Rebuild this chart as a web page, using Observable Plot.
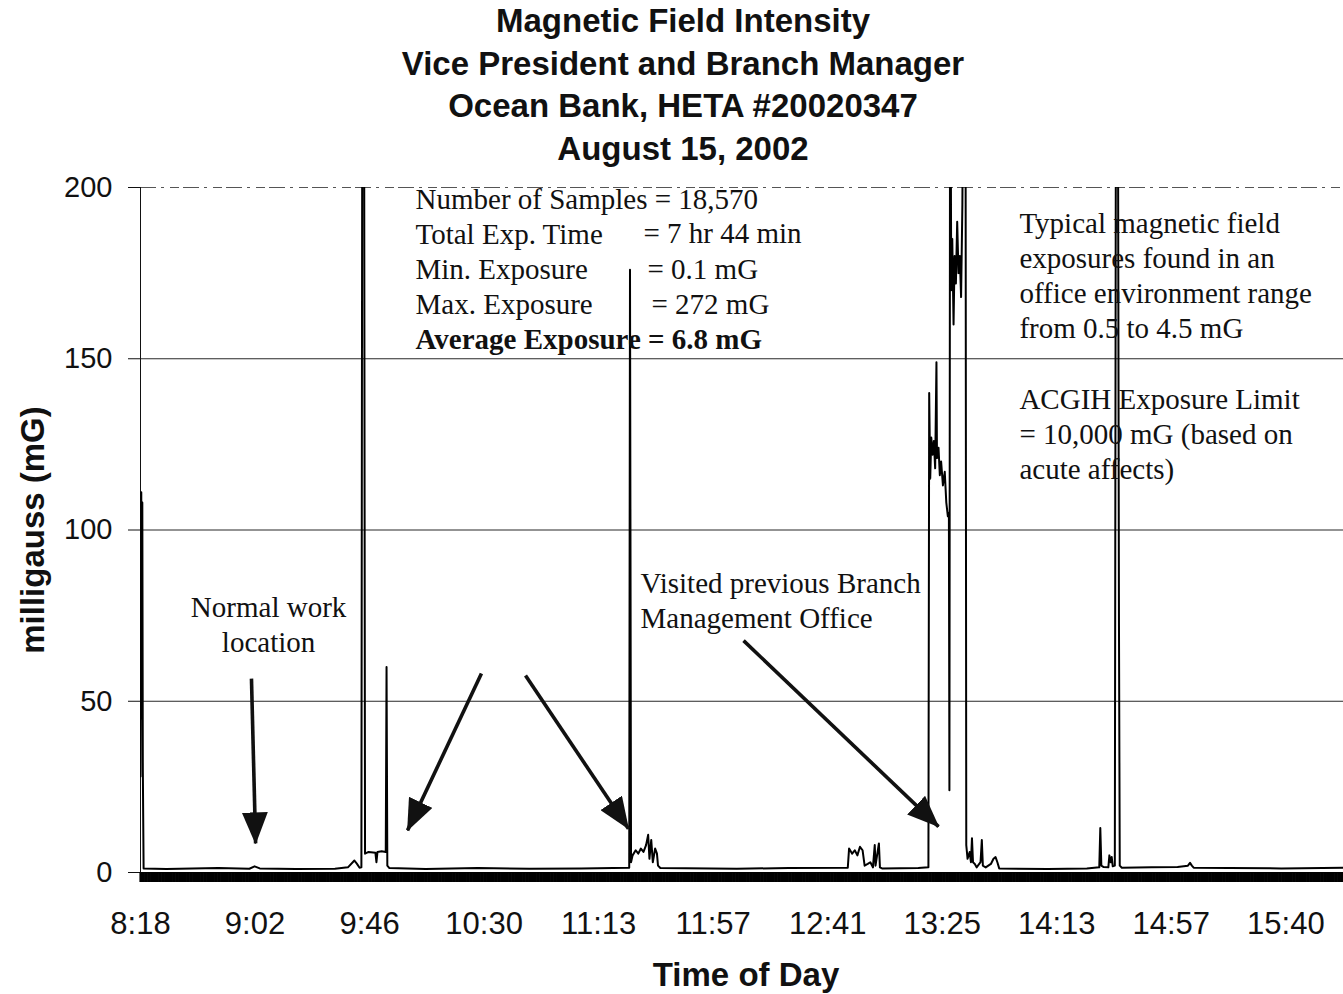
<!DOCTYPE html>
<html><head><meta charset="utf-8">
<script src="https://cdn.jsdelivr.net/npm/d3@7"></script>
<script src="https://cdn.jsdelivr.net/npm/@observablehq/plot@0.6"></script>
<style>
body{margin:0;background:#fff;width:1343px;height:994px;overflow:hidden}
#title{height:170px;box-sizing:border-box;padding-left:23px;text-align:center;font:bold 33px "Liberation Sans",Arial,sans-serif;line-height:42.5px;color:#111}
#chart svg{display:block;overflow:visible}
</style></head><body>
<div id="title">
<div>Magnetic Field Intensity</div>
<div>Vice President and Branch Manager</div>
<div>Ocean Bank, HETA #20020347</div>
<div>August 15, 2002</div>
</div>
<div id="chart"></div>
<script>
// ---- data ----
const totalSamples = 18570;
const totalMinutes = 464;          // 7 hr 44 min
const samplesPerLabel = 1768;      // category-axis label interval
const tickLabels = ["8:18","9:02","9:46","10:30","11:13","11:57","12:41","13:25","14:13","14:57","15:40"];
const yTicks = [0, 50, 100, 150, 200];
const gridValues = [50, 100, 150];
// minutes after 8:18
const sampleMinutes = [
  0, 0.3, 0.5, 0.7, 0.9, 1.2, 10, 30, 42, 44, 46, 60, 75, 80, 82.5, 83.5, 84.5, 85.2, 85.6, 86.2,
  86.6, 88, 90.6, 91.0, 91.4, 93, 94.6, 94.9, 95.2, 96,
  110, 130, 150, 170, 188.5, 188.8, 189.2, 189.8, 191, 192, 193, 194, 195, 195.8, 196.3, 197, 197.6, 198.5, 199.2, 199.6, 200.5,
  230, 250, 272.8, 273.3, 274.5, 275.5, 276.5, 277.5, 278.5, 279.3, 280.5, 281.5, 282.5, 283.2, 283.5, 284.8, 285.2, 286, 300,
  303.9, 304.2, 304.6, 305.0, 305.5, 306.0, 306.5, 307.0, 307.2, 307.8, 308.3, 308.8, 309.5, 310.2, 310.8, 311.4, 311.8, 312.0,
  312.3, 312.7, 313.1, 313.6, 314.0, 314.5, 315.0, 315.5, 316.0, 316.5, 317.0, 317.6, 318.2, 318.5,
  319.0, 319.8, 320.3, 320.7, 321.1, 321.8, 322.5, 324.0, 324.5, 324.9, 326.0, 328.0, 329.0, 329.8, 330.5, 331.2,
  350, 365, 369.8, 370.2, 370.6, 371.5, 373.3, 373.7, 374.2, 374.6, 375.0, 375.8, 376.3, 377.0, 377.4, 377.7, 378.5,
  390, 400, 404, 404.8, 405.5, 406.2, 420, 440, 464
];
const sampleMilligauss = [
  28, 111, 45, 108, 30, 1.2, 1.0, 1.3, 1.1, 1.8, 1.2, 1.0, 1.1, 1.5, 3.5, 2.5, 1.4, 1.5, 272, 260,
  5.5, 6.0, 5.8, 3.0, 6.0, 6.2, 6.0, 60, 2, 1.3,
  1.0, 1.3, 1.1, 1.2, 1.4, 176, 3, 5, 6.5, 5.5, 7, 6, 8, 11, 4, 9.5, 3, 7, 5.5, 2, 1.3,
  1.1, 1.3, 1.4, 7, 5.5, 6.5, 5, 7.5, 6.5, 2, 2.5, 3, 1.5, 8, 2, 8.5, 1.5, 1.2, 1.3,
  1.5, 140, 115, 127, 122, 126, 118, 149, 121, 124, 116, 120, 113, 117, 108, 104, 105, 24,
  272, 170, 185, 160, 180, 172, 190, 175, 180, 168, 195, 272, 250, 8,
  4, 6, 3, 10, 3, 2.5, 1.5, 3, 9.5, 2, 1.5, 2.5, 4, 4.5, 3, 1.2,
  1.0, 1.2, 1.5, 13, 2, 1.6, 1.5, 5, 3, 4.5, 1.8, 2, 272, 230, 72, 2, 1.4,
  1.5, 1.6, 2, 2.8, 2, 1.4, 1.3, 1.2, 1.4
];
const statHeader = "Number of Samples = 18,570";
const statNames = ["Total Exp. Time", "Min. Exposure", "Max. Exposure"];
const statValues = ["= 7 hr 44 min", "= 0.1 mG", "= 272 mG"];
const statAverage = "Average Exposure = 6.8 mG";
const noteTypical = ["Typical magnetic field", "exposures found in an", "office environment range", "from 0.5 to 4.5 mG"];
const noteLimit = ["ACGIH Exposure Limit", "= 10,000 mG (based on", "acute affects)"];
const noteNormal = ["Normal work", "location"];
const noteVisited = ["Visited previous Branch", "Management Office"];
const yTitle = "milligauss (mG)";
const xTitle = "Time of Day";

// ---- derived ----
const minutesPerSample = totalMinutes / totalSamples;
const tickMinutes = tickLabels.map((_, i) => i * samplesPerLabel * minutesPerSample);
const labelOf = new Map(tickMinutes.map((m, i) => [m, tickLabels[i]]));
const denseTicks = d3.range(0, totalMinutes, 0.6);
const series = sampleMinutes.map((m, i) => ({m, v: sampleMilligauss[i]}));

const SANS = "'Liberation Sans', Arial, sans-serif";
const SERIF = "'Liberation Serif', 'Times New Roman', serif";
const LH = 35 / 29;

const plot = Plot.plot({
  width: 1343, height: 824,
  marginTop: 17, marginBottom: 122, marginLeft: 140, marginRight: 0,
  style: {background: "#fff", color: "#111"},
  x: {domain: [0, totalMinutes]},
  y: {domain: [0, 200]},
  marks: [
    Plot.gridY(gridValues, {stroke: "#111", strokeOpacity: 0.9}),
    Plot.ruleY([200], {stroke: "#555", strokeDasharray: "16,5,3,6,9,4"}),
    Plot.ruleX([0], {stroke: "#111"}),
    Plot.ruleY([0], {stroke: "#111"}),
    Plot.axisY(yTicks, {tickSize: 12, tickPadding: 16, fontSize: 29, fontFamily: SANS, label: null, stroke: "#111"}),
    Plot.ruleX(denseTicks, {x: d => d, y1: 0, y2: 0, insetBottom: -10, stroke: "#000", strokeWidth: 2.2}),
    Plot.axisX(tickMinutes, {tickSize: 0, tickPadding: 39, tickFormat: d => labelOf.get(d), fontSize: 31, fontFamily: SANS, label: null}),
    Plot.line(series, {x: "m", y: "v", stroke: "#000", strokeWidth: 2, clip: true}),
    // stats box
    Plot.text([[statHeader, ...statNames].join("\n")], {x: 106.07, y: 163.21, text: d => d, textAnchor: "start", lineAnchor: "bottom", lineHeight: LH, fontSize: 29, fontFamily: SERIF, fill: "#111"}),
    Plot.text(statValues, {x: (d, i) => 194.0 + i * 1.55, y: (d, i) => 183.65 - i * 10.22, text: d => d, textAnchor: "start", lineAnchor: "bottom", fontSize: 29, fontFamily: SERIF, fill: "#111"}),
    Plot.text([statAverage], {x: 106.07, y: 152.99, text: d => d, textAnchor: "start", lineAnchor: "bottom", fontSize: 29, fontWeight: "bold", fontFamily: SERIF, fill: "#111"}),
    Plot.text([noteTypical.join("\n")], {x: 339.0, y: 156.2, text: d => d, textAnchor: "start", lineAnchor: "bottom", lineHeight: LH, fontSize: 29, fontFamily: SERIF, fill: "#111"}),
    Plot.text([noteLimit.join("\n")], {x: 339.0, y: 115.0, text: d => d, textAnchor: "start", lineAnchor: "bottom", lineHeight: LH, fontSize: 29, fontFamily: SERIF, fill: "#111"}),
    Plot.text([noteNormal.join("\n")], {x: 49.4, y: 64.5, text: d => d, textAnchor: "middle", lineAnchor: "bottom", lineHeight: LH, fontSize: 29, fontFamily: SERIF, fill: "#111"}),
    Plot.text([noteVisited.join("\n")], {x: 192.85, y: 71.5, text: d => d, textAnchor: "start", lineAnchor: "bottom", lineHeight: LH, fontSize: 29, fontFamily: SERIF, fill: "#111"}),
    // arrows
    Plot.link([
      {x1: 42.8, y1: 56.6, x2: 44.4, y2: 8.5},
      {x1: 131.5, y1: 58.1, x2: 103.0, y2: 12.3},
      {x1: 148.5, y1: 57.5, x2: 188.2, y2: 12.8},
      {x1: 232.6, y1: 67.7, x2: 307.8, y2: 13.4}
    ], {x1: "x1", y1: "y1", x2: "x2", y2: "y2", stroke: "#111", strokeWidth: 3.6}),
    // axis titles
    Plot.text([yTitle], {frameAnchor: "left", rotate: -90, dx: -107, textAnchor: "middle", lineAnchor: "middle", text: d => d, fontSize: 33, fontWeight: "bold", fontFamily: SANS, fill: "#111"}),
    Plot.text([xTitle], {frameAnchor: "bottom", dx: 4, dy: 113, textAnchor: "middle", lineAnchor: "bottom", text: d => d, fontSize: 33, fontWeight: "bold", fontFamily: SANS, fill: "#111"})
  ]
});

document.getElementById("chart").appendChild(plot);
const svg = d3.select(plot.tagName.toLowerCase() === "svg" ? plot : plot.querySelector("svg"));
const defs = svg.append("defs");
defs.append("marker").attr("id", "ahead").attr("markerUnits", "userSpaceOnUse")
  .attr("viewBox", "0 0 32 26").attr("markerWidth", 32).attr("markerHeight", 26)
  .attr("refX", 31).attr("refY", 13).attr("orient", "auto")
  .append("path").attr("d", "M0,0L32,13L0,26Z").attr("fill", "#111");
svg.selectAll('g[aria-label="link"] path').attr("marker-end", "url(#ahead)");
</script>
</body></html>
